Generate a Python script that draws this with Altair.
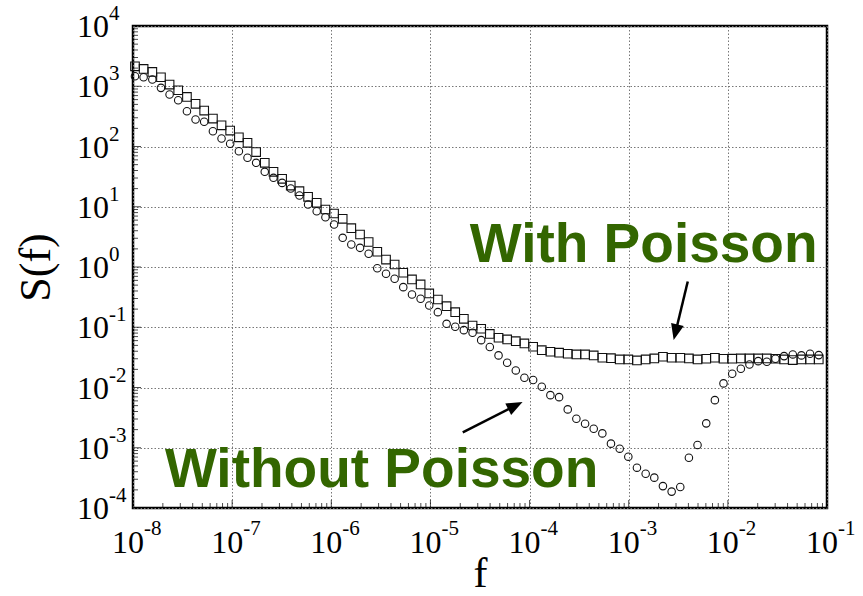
import altair as alt
import pandas as pd

# log10 of the frequency bins shared by both spectra
log_f = [
    -7.980, -7.893, -7.805, -7.718, -7.631, -7.544, -7.456, -7.369, -7.282, -7.194,
    -7.107, -7.020, -6.932, -6.845, -6.758, -6.671, -6.583, -6.496, -6.409, -6.321,
    -6.234, -6.147, -6.059, -5.972, -5.885, -5.798, -5.710, -5.623, -5.536, -5.448,
    -5.361, -5.274, -5.186, -5.099, -5.012, -4.925, -4.837, -4.750, -4.663, -4.575,
    -4.488, -4.401, -4.313, -4.226, -4.139, -4.052, -3.964, -3.877, -3.790, -3.702,
    -3.615, -3.528, -3.440, -3.353, -3.266, -3.179, -3.091, -3.004, -2.917, -2.829,
    -2.742, -2.655, -2.567, -2.480, -2.393, -2.306, -2.218, -2.131, -2.044, -1.956,
    -1.869, -1.782, -1.694, -1.607, -1.520, -1.433, -1.345, -1.258, -1.171, -1.083,
]

# S(f) with Poisson noise (squares)
s_with_poisson = [
    2140, 1940, 1730, 1410, 1066, 858, 666, 510, 395, 291,
    225, 184, 142, 115, 80.9, 53.6, 38.0, 29.1, 22.5, 18.1,
    14.6, 11.6, 9.00, 7.73, 6.31, 4.41, 3.46, 2.60, 1.79, 1.33,
    1.10, 0.802, 0.621, 0.513, 0.364, 0.289, 0.224, 0.178, 0.138, 0.107,
    0.0944, 0.0774, 0.0670, 0.0627, 0.0588, 0.0539, 0.0475, 0.0417, 0.0392, 0.0378,
    0.0363, 0.0354, 0.0354, 0.0341, 0.0312, 0.0307, 0.0292, 0.0292, 0.0281, 0.0292,
    0.0304, 0.0324, 0.0312, 0.0312, 0.0304, 0.0292, 0.0300, 0.0312, 0.0300, 0.0301,
    0.0304, 0.0304, 0.0304, 0.0304, 0.0300, 0.0292, 0.0285, 0.0292, 0.0292, 0.0292,
]

# S(f) without Poisson noise (circles)
s_without_poisson = [
    1464, 1409, 1291, 940, 728, 585, 385, 280, 257, 179,
    136, 111, 83.4, 64.9, 53.6, 38.0, 30.2, 24.9, 20.1, 15.4,
    10.9, 8.43, 6.71, 5.08, 3.05, 2.36, 2.08, 1.66, 0.952, 0.772,
    0.638, 0.463, 0.350, 0.297, 0.230, 0.178, 0.114, 0.102, 0.0895, 0.0811,
    0.0611, 0.0471, 0.0341, 0.0258, 0.0192, 0.0145, 0.0133, 0.0103, 0.00747, 0.00692,
    0.00433, 0.00303, 0.00251, 0.00207, 0.00173, 0.00117, 0.000965, 0.000711, 0.000467, 0.000371,
    0.000319, 0.000231, 0.000187, 0.000223, 0.000684, 0.00111, 0.00254, 0.00617, 0.0117, 0.0169,
    0.0205, 0.0241, 0.0274, 0.0268, 0.0300, 0.0332, 0.0354, 0.0341, 0.0363, 0.0345,
]

# axis decades and minor tick multipliers
x_decades = [-8, -7, -6, -5, -4, -3, -2, -1]
y_decades = [-4, -3, -2, -1, 0, 1, 2, 3, 4]
minor_mult = [2, 3, 4, 5, 6, 7, 8, 9]

# annotations and their arrows (data coordinates)
note_text = ["With Poisson", "Without Poisson"]
note_f = [2.49e-5, 2.10e-8]
note_s = [1.23, 2.20e-4]

arrow_f = [3.94e-3, 2.12e-5]
arrow_s = [0.575, 1.80e-3]
arrow_f2 = [3.00e-3, 6.90e-5]
arrow_s2 = [0.0891, 4.82e-3]
arrow_angle = [193.6, 63.4]

W, H = 694, 482
SERIF = "Liberation Serif"
GREEN = "#336600"

freqs = [10.0 ** v for v in log_f]
squares = pd.DataFrame({"f": freqs, "S": s_with_poisson})
circles = pd.DataFrame({"f": freqs, "S": s_without_poisson})

xs = alt.Scale(type="log", domain=[1e-8, 1e-1], nice=False)
ys = alt.Scale(type="log", domain=[1e-4, 1e4], nice=False)

x_axis = alt.Axis(
    values=[10.0 ** d for d in x_decades], grid=True, gridColor="#777777",
    gridDash=[1.5, 2], gridWidth=1, labels=False, ticks=False, domain=False,
    title="f", titleFont=SERIF, titleFontSize=42, titleFontWeight="normal",
    titleColor="black", titleX=W / 2, titleY=78, titleAlign="center",
    titleBaseline="alphabetic",
)
y_axis = alt.Axis(
    values=[10.0 ** d for d in y_decades], grid=True, gridColor="#777777",
    gridDash=[1.5, 2], gridWidth=1, labels=False, ticks=False, domain=False,
    title="S(f)", titleFont=SERIF, titleFontSize=44, titleFontWeight="normal",
    titleColor="black", titleX=-97, titleY=H / 2, titleAngle=270,
    titleAlign="center", titleBaseline="middle",
)

X = alt.X("f:Q", scale=xs, axis=x_axis)
Y = alt.Y("S:Q", scale=ys, axis=y_axis)

circle_layer = alt.Chart(circles).mark_point(
    shape="circle", filled=False, size=56, stroke="#111111", strokeWidth=1.1, opacity=1
).encode(x=X, y=Y)

square_layer = alt.Chart(squares).mark_point(
    shape="square", filled=False, size=74, stroke="#111111", strokeWidth=1.1, opacity=1
).encode(x=X, y=Y)

# inward ticks on the bottom and left edges
x_major = pd.DataFrame({"f": [10.0 ** d for d in x_decades]})
x_minor = pd.DataFrame({"f": [m * 10.0 ** d for d in x_decades[:-1] for m in minor_mult]})
y_major = pd.DataFrame({"S": [10.0 ** d for d in y_decades]})
y_minor = pd.DataFrame({"S": [m * 10.0 ** d for d in y_decades[:-1] for m in minor_mult]})

tick_layers = [
    alt.Chart(x_major).mark_tick(orient="vertical", size=8, thickness=1, color="black")
    .encode(x=X, y=alt.value(H - 4)),
    alt.Chart(x_minor).mark_tick(orient="vertical", size=5, thickness=1, color="black")
    .encode(x=X, y=alt.value(H - 2.5)),
    alt.Chart(y_major).mark_tick(orient="horizontal", size=8, thickness=1, color="black")
    .encode(y=Y, x=alt.value(4)),
    alt.Chart(y_minor).mark_tick(orient="horizontal", size=5, thickness=1, color="black")
    .encode(y=Y, x=alt.value(2.5)),
]

# power-of-ten tick labels: base "10" plus a raised exponent
x_lab = pd.DataFrame({"f": [10.0 ** d for d in x_decades],
                      "base": ["10"] * len(x_decades),
                      "exp": [str(d) for d in x_decades]})
y_lab = pd.DataFrame({"S": [10.0 ** d for d in y_decades],
                      "base": ["10"] * len(y_decades),
                      "exp": [str(d) for d in y_decades]})

label_layers = [
    alt.Chart(x_lab).mark_text(font=SERIF, fontSize=32, align="right",
                               baseline="alphabetic", dx=11, color="black")
    .encode(x=X, y=alt.value(H + 45), text="base:N"),
    alt.Chart(x_lab).mark_text(font=SERIF, fontSize=21, align="left",
                               baseline="alphabetic", dx=11, color="black")
    .encode(x=X, y=alt.value(H + 27), text="exp:N"),
    alt.Chart(y_lab).mark_text(font=SERIF, fontSize=32, align="right",
                               baseline="alphabetic", dy=11, color="black")
    .encode(y=Y, x=alt.value(-24), text="base:N"),
    alt.Chart(y_lab).mark_text(font=SERIF, fontSize=21, align="left",
                               baseline="alphabetic", dy=-6, color="black")
    .encode(y=Y, x=alt.value(-24), text="exp:N"),
]

notes = pd.DataFrame({"f": note_f, "S": note_s, "label": note_text})
note_layer = alt.Chart(notes).mark_text(
    font="Liberation Sans", fontSize=55, fontWeight="bold", color=GREEN,
    align="left", baseline="alphabetic"
).encode(x=X, y=Y, text="label:N")

arrows = pd.DataFrame({"f": arrow_f, "S": arrow_s, "f2": arrow_f2,
                       "S2": arrow_s2, "ang": arrow_angle})
shaft_layer = alt.Chart(arrows).mark_rule(color="black", strokeWidth=2.5).encode(
    x=X, y=Y, x2="f2:Q", y2="S2:Q"
)
head_layer = alt.Chart(arrows).mark_point(
    shape="M0,-1L0.65,0.6L-0.65,0.6Z", filled=True, color="black",
    size=400, opacity=1, strokeWidth=0
).encode(
    x=alt.X("f2:Q", scale=xs, axis=x_axis),
    y=alt.Y("S2:Q", scale=ys, axis=y_axis),
    angle=alt.Angle("ang:Q", scale=None),
)

chart = alt.layer(
    circle_layer, square_layer, *tick_layers, *label_layers,
    note_layer, shaft_layer, head_layer,
).properties(
    width=W, height=H,
    autosize=alt.AutoSizeParams(type="none"),
    padding={"left": 133, "top": 26, "right": 36, "bottom": 88},
).configure(background="white").configure_view(stroke="black", strokeWidth=2.5)

chart.save("out.html", embed_options={"renderer": "svg", "actions": False})
